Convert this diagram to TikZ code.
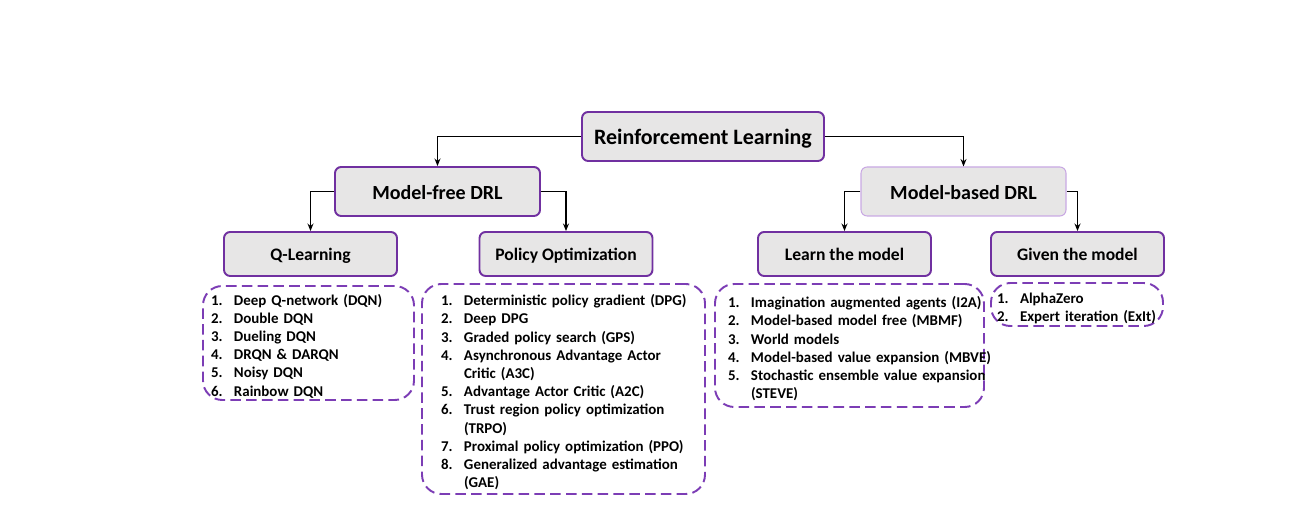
\documentclass[tikz,border=0pt]{standalone}
\usepackage{fontspec}
\setmainfont{Carlito}
\usepackage{array}
\usetikzlibrary{arrows.meta}
\definecolor{rlpurple}{HTML}{7030A0}
\definecolor{dashpurple}{HTML}{7C3DB5}
\definecolor{palepurple}{HTML}{C9A9E3}
\definecolor{boxgray}{HTML}{E7E6E6}
\newcommand{\algolist}[1]{\raisebox{-2.3pt}[\height][\depth]{\begin{tabular}{@{}p{0.46cm}@{}l@{}}#1\end{tabular}}}
\tikzset{
  catbox/.style={draw=rlpurple,line width=1.1pt,fill=boxgray,rounded corners=3.5pt,inner sep=0pt,text depth=0pt,font=\bfseries},
  lstbox/.style={draw=dashpurple,line width=1.1pt,dash pattern=on 6pt off 3pt,rounded corners=11pt,
    align=left,inner ysep=0pt,text width=#1,font=\fontsize{8.5}{10.35}\selectfont\bfseries},
  flow/.style={-{Stealth[length=1.5mm,width=1.2mm]},line width=0.7pt},
}

\begin{document}
\begin{tikzpicture}
\useasboundingbox (0,0) rectangle (26.24,10.28);
% tree of categories
\node[catbox,minimum width=4.84cm,minimum height=0.98cm,text height=9.6pt,font=\fontsize{12.5}{15}\selectfont\bfseries] (rl) at (14.06,7.55) {Reinforcement Learning};
\node[catbox,minimum width=4.1cm,minimum height=0.98cm,text height=9pt,font=\fontsize{11.4}{14}\selectfont\bfseries] (mfree) at (8.75,6.45) {Model-free DRL};
\node[catbox,draw=palepurple,line width=0.6pt,minimum width=4.1cm,minimum height=0.98cm,text height=9pt,font=\fontsize{11.4}{14}\selectfont\bfseries] (mbased) at (19.27,6.45) {Model-based DRL};
\tikzset{leaf/.style={catbox,minimum width=3.46cm,minimum height=0.88cm,text height=7.4pt,font=\fontsize{10}{12}\selectfont\bfseries}}
\node[leaf] (qlearn) at (6.21,5.2)  {Q-Learning};
\node[leaf] (polopt) at (11.32,5.2) {Policy Optimization};
\node[leaf] (learn)  at (16.89,5.2) {Learn the model};
\node[leaf] (given)  at (21.55,5.2) {Given the model};
\draw[flow] (rl.west) -| (mfree); \draw[flow] (rl.east) -| (mbased);
\draw[flow] (mfree.west) -| (qlearn); \draw[flow] (mfree.east) -| (polopt);
\draw[flow] (mbased.west) -| (learn); \draw[flow] (mbased.east) -| (given);
% algorithm lists
\node[lstbox=3.9cm,inner xsep=0.16cm,minimum height=2.28cm] (qlist) at (6.17,3.42) {\algolist{
1. & Deep Q-network (DQN)\\ 2. & Double DQN\\ 3. & Dueling DQN\\ 4. & DRQN \& DARQN\\ 5. & Noisy DQN\\ 6. & Rainbow DQN}};
\node[lstbox=4.9cm,inner xsep=0.38cm,minimum height=4.2cm] (polist) at (11.27,2.5) {\algolist{
1. & Deterministic policy gradient (DPG)\\ 2. & Deep DPG\\ 3. & Graded policy search (GPS)\\
4. & Asynchronous Advantage Actor\\ & Critic (A3C)\\ 5. & Advantage Actor Critic (A2C)\\
6. & Trust region policy optimization\\ & (TRPO)\\ 7. & Proximal policy optimization (PPO)\\
8. & Generalized advantage estimation\\ & (GAE)}};
\node[lstbox=4.86cm,inner xsep=0.26cm,minimum height=2.46cm] (learnlist) at (16.99,3.37) {\algolist{
1. & Imagination augmented agents (I2A)\\ 2. & Model-based model free (MBMF)\\ 3. & World models\\
4. & Model-based value expansion (MBVE)\\ 5. & Stochastic ensemble value expansion\\ & (STEVE)}};
\node[lstbox=3.2cm,inner xsep=0.12cm,minimum height=0.86cm] (givenlist) at (21.54,4.19) {\algolist{
1. & AlphaZero\\ 2. & Expert iteration (ExIt)}};
\end{tikzpicture}
\end{document}
